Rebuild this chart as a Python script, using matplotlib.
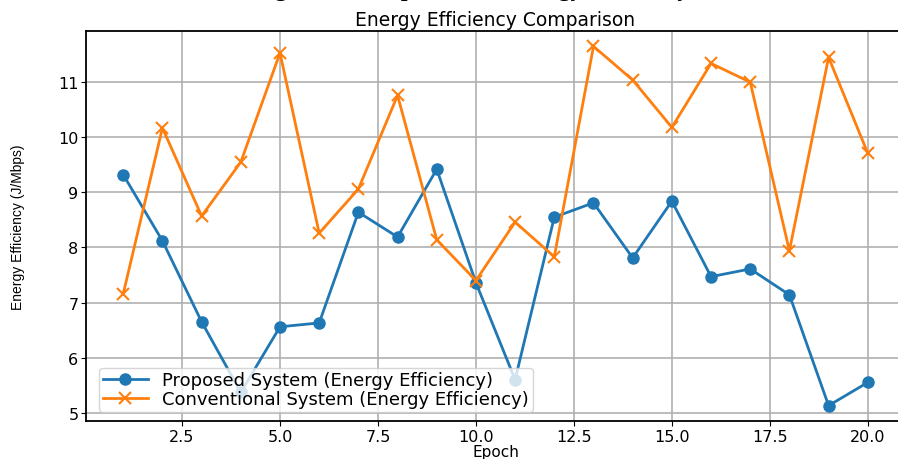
import numpy as np
import matplotlib.pyplot as plt

epochs = np.arange(1, 21)

proposed = [9.32, 8.12, 6.65, 5.37, 6.56, 6.63, 8.64, 8.19, 9.42, 7.36,
            5.60, 8.55, 8.81, 7.81, 8.84, 7.47, 7.61, 7.14, 5.13, 5.55]
conventional = [7.16, 10.17, 8.57, 9.55, 11.53, 8.26, 9.06, 10.76, 8.14, 7.40,
                8.46, 7.83, 11.65, 11.04, 10.18, 11.34, 11.00, 7.94, 11.45, 9.71]

fig = plt.figure(figsize=(8.98, 4.6), dpi=100)
ax = fig.add_axes([0.0958, 0.0826, 0.912, 0.848])

ax.plot(epochs, proposed, marker='o', markersize=8, linewidth=2,
        color='#1f77b4', label='Proposed System (Energy Efficiency)')
ax.plot(epochs, conventional, marker='x', markersize=9, markeredgewidth=1.5,
        linewidth=2, color='#ff7f0e', label='Conventional System (Energy Efficiency)')
ax.set_ylim(4.85, 11.93)

ax.set_title('Energy Efficiency Comparison', fontsize=13.5, pad=4)
ax.set_xlabel('Epoch', fontsize=11, labelpad=0)
ax.set_ylabel('Energy Efficiency (J/Mbps)', fontsize=10, family='Liberation Sans')
ax.yaxis.set_label_coords(-0.074, 0.5)
ax.tick_params(labelsize=11.5, pad=2)
ax.grid(True, color='#b0b0b0', linewidth=1.2)
for s in ax.spines.values():
    s.set_linewidth(1.3)
ax.legend(loc='lower left', fontsize=13, borderpad=0.2, labelspacing=0.05,
          handlelength=2.5, bbox_to_anchor=(0.005, 0.0))

# caption of the source document, mostly cut off at the top edge
fig.text(0.525, 1.008, 'Figure 5: Comparison of Energy Efficiency', ha='center',
         va='baseline', fontsize=17, fontweight='bold', family='Liberation Serif')

fig.savefig('out.png', dpi=100)
